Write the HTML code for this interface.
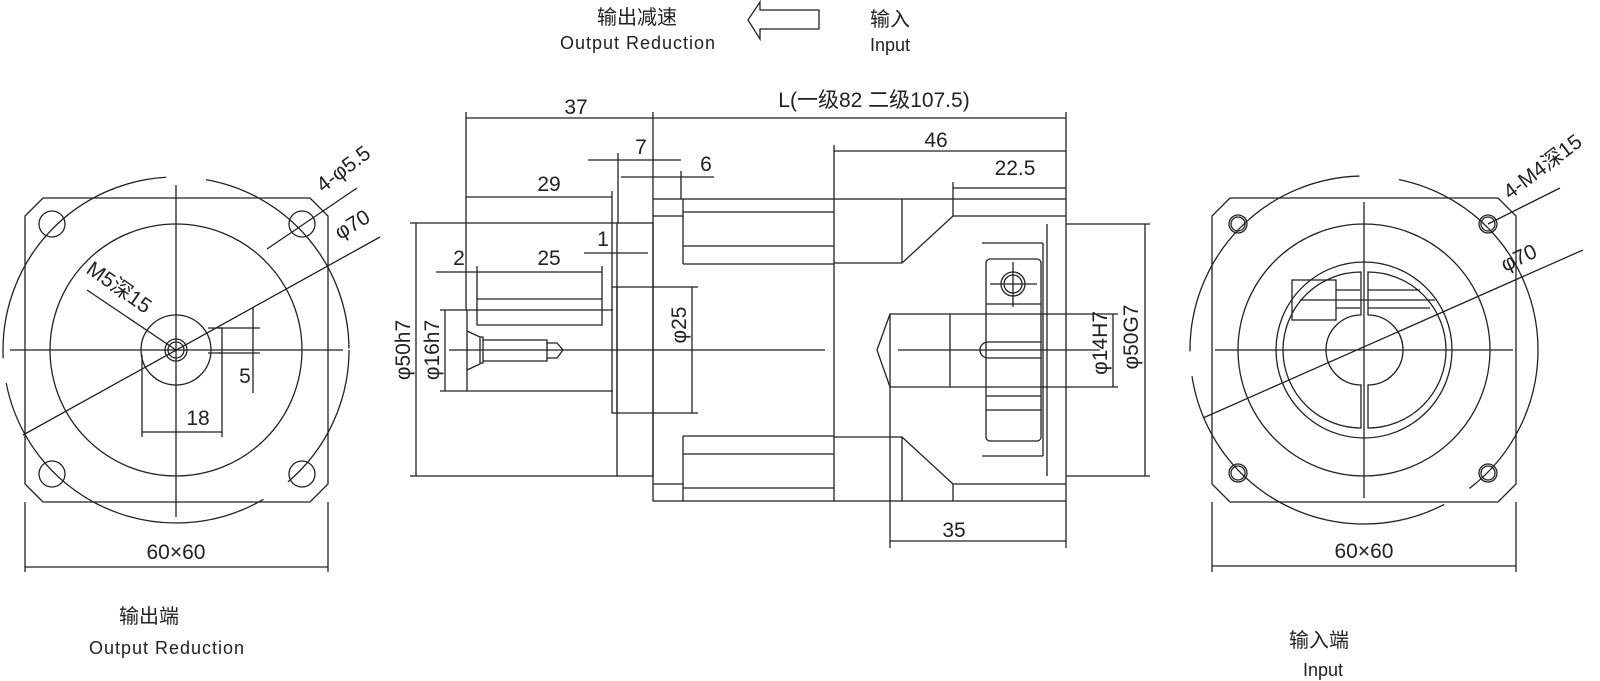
<!DOCTYPE html>
<html><head><meta charset="utf-8"><style>
html,body{margin:0;padding:0;background:#fff;}
svg{display:block;}
text{font-family:"Liberation Sans","Noto Sans CJK SC",sans-serif;fill:#222;}
</style></head><body>
<svg width="1600" height="681" viewBox="0 0 1600 681" xmlns="http://www.w3.org/2000/svg">
<g fill="none" stroke="#222" stroke-width="1.3">
<!-- ===== LEFT VIEW ===== -->
<path d="M43,198 L310,198 L328,216 L328,484 L310,502 L43,502 L25,484 L25,216 Z"/>
<circle cx="176" cy="350" r="173" stroke-dasharray="150,30,330,25,270,40,240,20"/>
<circle cx="176" cy="350" r="126"/>
<circle cx="176" cy="350" r="35"/>
<circle cx="176" cy="350" r="11"/>
<circle cx="176" cy="350" r="8"/>
<circle cx="52" cy="224" r="13"/><circle cx="302" cy="224" r="13"/>
<circle cx="52" cy="474" r="13"/><circle cx="302" cy="474" r="13"/>
<line x1="10" y1="350" x2="343" y2="350"/>
<line x1="176" y1="185" x2="176" y2="517"/>
<line x1="23" y1="435" x2="380" y2="237"/>
<line x1="267" y1="249" x2="357" y2="188"/>
<line x1="87" y1="290" x2="176" y2="350"/>
<path d="M208,328 L222,328 L222,353 L208,353"/>
<line x1="218" y1="328" x2="260" y2="328"/>
<line x1="218" y1="353" x2="260" y2="353"/>
<line x1="253" y1="308" x2="253" y2="393"/>
<line x1="142" y1="355" x2="142" y2="437"/>
<line x1="222" y1="353" x2="222" y2="437"/>
<line x1="142" y1="432" x2="222" y2="432"/>
<line x1="25" y1="502" x2="25" y2="572"/>
<line x1="328" y1="502" x2="328" y2="572"/>
<line x1="25" y1="567" x2="328" y2="567"/>

<!-- ===== RIGHT VIEW ===== -->
<path d="M1230,198 L1498,198 L1516,216 L1516,484 L1498,502 L1230,502 L1212,484 L1212,216 Z"/>
<circle cx="1364" cy="350" r="174" stroke-dasharray="160,30,330,25,270,40,240,20"/>
<circle cx="1364" cy="350" r="126"/>
<circle cx="1364" cy="350" r="88"/>
<path d="M1361,272 A78,78 0 0 0 1361,428 L1361,385 A35,35 0 0 1 1361,315 Z"/>
<path d="M1368,272 A78,78 0 0 1 1368,428 L1368,385 A35,35 0 0 0 1368,315 Z"/>
<rect x="1292" y="280" width="44" height="40"/>
<line x1="1300" y1="300" x2="1435" y2="300"/>
<line x1="1336" y1="290" x2="1360" y2="290"/><line x1="1368" y1="290" x2="1420" y2="290"/>
<line x1="1336" y1="308" x2="1360" y2="308"/><line x1="1368" y1="308" x2="1430" y2="308"/>
<circle cx="1238" cy="224" r="9"/><circle cx="1238" cy="224" r="7"/>
<circle cx="1488" cy="224" r="9"/><circle cx="1488" cy="224" r="7"/>
<circle cx="1238" cy="473" r="9"/><circle cx="1238" cy="473" r="7"/>
<circle cx="1488" cy="473" r="9"/><circle cx="1488" cy="473" r="7"/>
<line x1="1215" y1="350" x2="1513" y2="350"/>
<line x1="1364" y1="202" x2="1364" y2="498"/>
<line x1="1203" y1="418" x2="1583" y2="250"/>
<line x1="1488" y1="224" x2="1560" y2="188"/>
<line x1="1212" y1="502" x2="1212" y2="572"/>
<line x1="1516" y1="502" x2="1516" y2="572"/>
<line x1="1212" y1="566" x2="1516" y2="566"/>

<!-- ===== MAIN SIDE VIEW ===== -->
<path d="M613,310 L467,310 L467,391 L613,391"/>
<path d="M477,266 L477,325 L602,325 L602,266"/>
<line x1="477" y1="299" x2="602" y2="299"/>
<path d="M467,331 L480,337 L480,364 L467,370"/>
<path d="M480,337 L483,337 L483,363 L480,363"/>
<path d="M483,340 L547,340 L547,361 L483,361"/>
<path d="M547,343 L557,343 L563,350 L557,358 L547,358"/>
<line x1="449" y1="350" x2="825" y2="350"/>
<rect x="612" y="287" width="5" height="126"/>
<line x1="617" y1="287" x2="698" y2="287"/>
<line x1="617" y1="413" x2="698" y2="413"/>
<rect x="617" y="223" width="36" height="253"/>
<line x1="410" y1="223" x2="617" y2="223"/>
<line x1="410" y1="476" x2="617" y2="476"/>
<rect x="653" y="199" width="413" height="302"/>
<path d="M653,216 L683,216 L683,199"/>
<path d="M653,484 L683,484 L683,501"/>
<line x1="683" y1="216" x2="683" y2="264"/>
<line x1="683" y1="484" x2="683" y2="436"/>
<line x1="683" y1="212" x2="834" y2="212"/><line x1="683" y1="246" x2="834" y2="246"/>
<line x1="683" y1="264" x2="834" y2="264"/>
<line x1="683" y1="488" x2="834" y2="488"/><line x1="683" y1="454" x2="834" y2="454"/>
<line x1="683" y1="436" x2="834" y2="436"/>
<line x1="834" y1="199" x2="834" y2="501"/>
<path d="M834,263 L902,263 L953,216 L1066,216"/>
<path d="M834,437 L902,437 L953,484 L1066,484"/>
<line x1="902" y1="199" x2="902" y2="263"/>
<line x1="902" y1="437" x2="902" y2="501"/>
<line x1="953" y1="199" x2="953" y2="216"/>
<line x1="953" y1="484" x2="953" y2="501"/>
<line x1="1047" y1="224" x2="1047" y2="476"/>
<line x1="1043" y1="243" x2="1043" y2="456"/>
<line x1="982" y1="243" x2="1043" y2="243"/>
<line x1="982" y1="456" x2="1043" y2="456"/>
<line x1="1066" y1="224" x2="1150" y2="224"/>
<line x1="1066" y1="476" x2="1150" y2="476"/>
<rect x="986" y="259" width="55" height="182" rx="4"/>
<circle cx="1013" cy="284" r="12"/><circle cx="1013" cy="284" r="9"/>
<line x1="1013" y1="262" x2="1013" y2="307"/>
<line x1="990" y1="284" x2="1037" y2="284"/>
<line x1="986" y1="304" x2="1041" y2="304"/>
<line x1="986" y1="396" x2="1041" y2="396"/>
<line x1="986" y1="410" x2="1041" y2="410"/>
<path d="M890,314 L950,314 L950,387 L890,387 Z"/>
<path d="M890,314 L877,350 L890,387"/>
<line x1="950" y1="314" x2="1041" y2="314"/>
<line x1="950" y1="387" x2="1041" y2="387"/>
<path d="M1041,342 L988,342 A8,8 0 0 0 988,358 L1041,358"/>
<line x1="898" y1="350" x2="1100" y2="350"/>
<line x1="890" y1="387" x2="890" y2="548"/>
<line x1="1066" y1="501" x2="1066" y2="548"/>
<line x1="890" y1="541" x2="1066" y2="541"/>
<line x1="466" y1="112" x2="466" y2="310"/>
<line x1="653" y1="112" x2="653" y2="199"/>
<line x1="1066" y1="112" x2="1066" y2="199"/>
<line x1="466" y1="118" x2="1066" y2="118"/>
<line x1="834" y1="145" x2="834" y2="199"/>
<line x1="834" y1="151" x2="1066" y2="151"/>
<line x1="953" y1="182" x2="953" y2="199"/>
<line x1="953" y1="188" x2="1066" y2="188"/>
<line x1="466" y1="197" x2="612" y2="197"/>
<line x1="612" y1="191" x2="612" y2="287"/>
<line x1="618" y1="153" x2="618" y2="223"/>
<line x1="588" y1="160" x2="681" y2="160"/>
<line x1="621" y1="177" x2="714" y2="177"/>
<line x1="681" y1="171" x2="681" y2="199"/>
<line x1="584" y1="253" x2="648" y2="253"/>
<line x1="436" y1="272" x2="477" y2="272"/>
<line x1="477" y1="272" x2="602" y2="272"/>
<line x1="416" y1="223" x2="416" y2="476"/>
<line x1="440" y1="310" x2="467" y2="310"/>
<line x1="440" y1="391" x2="467" y2="391"/>
<line x1="445" y1="310" x2="445" y2="391"/>
<line x1="692" y1="287" x2="692" y2="413"/>
<line x1="1041" y1="314" x2="1118" y2="314"/>
<line x1="1041" y1="387" x2="1118" y2="387"/>
<line x1="1113" y1="314" x2="1113" y2="387"/>
<line x1="1145" y1="224" x2="1145" y2="476"/>
<path d="M748,20 L760,2 L760,10 L819,10 L819,29 L760,29 L760,39 Z"/>
</g>

<g font-size="21">
<text x="637" y="24" text-anchor="middle" font-size="20">输出减速</text>
<text x="638" y="49" text-anchor="middle" font-size="18" letter-spacing="1">Output Reduction</text>
<text x="890" y="26" text-anchor="middle" font-size="20">输入</text>
<text x="890" y="51" text-anchor="middle" font-size="18">Input</text>
<text x="149" y="623" text-anchor="middle" font-size="20">输出端</text>
<text x="167" y="654" text-anchor="middle" font-size="18" letter-spacing="1">Output Reduction</text>
<text x="1319" y="647" text-anchor="middle" font-size="20">输入端</text>
<text x="1323" y="676" text-anchor="middle" font-size="18">Input</text>

<text x="576" y="114" text-anchor="middle">37</text>
<text x="874" y="107" text-anchor="middle">L(一级82 二级107.5)</text>
<text x="936" y="147" text-anchor="middle">46</text>
<text x="1015" y="175" text-anchor="middle">22.5</text>
<text x="549" y="191" text-anchor="middle">29</text>
<text x="641" y="154" text-anchor="middle">7</text>
<text x="706" y="171" text-anchor="middle">6</text>
<text x="603" y="246" text-anchor="middle">1</text>
<text x="459" y="265" text-anchor="middle">2</text>
<text x="549" y="265" text-anchor="middle">25</text>
<text x="954" y="537" text-anchor="middle">35</text>
<text transform="translate(410,350) rotate(-90)" text-anchor="middle">φ50h7</text>
<text transform="translate(439,350) rotate(-90)" text-anchor="middle">φ16h7</text>
<text transform="translate(686,325) rotate(-90)" text-anchor="middle">φ25</text>
<text transform="translate(1107,343) rotate(-90)" text-anchor="middle">φ14H7</text>
<text transform="translate(1138,337) rotate(-90)" text-anchor="middle">φ50G7</text>

<text x="176" y="559" text-anchor="middle">60×60</text>
<text x="198" y="425" text-anchor="middle">18</text>
<text x="245" y="383" text-anchor="middle">5</text>
<text transform="translate(323,193) rotate(-37)">4-φ5.5</text>
<text transform="translate(340,240) rotate(-31)">φ70</text>
<text transform="translate(85,272) rotate(35)">M5深15</text>

<text x="1364" y="558" text-anchor="middle">60×60</text>
<text transform="translate(1510,200) rotate(-37)">4-M4深15</text>
<text transform="translate(1505,272) rotate(-25)">φ70</text>
</g>
</svg>
</body></html>
